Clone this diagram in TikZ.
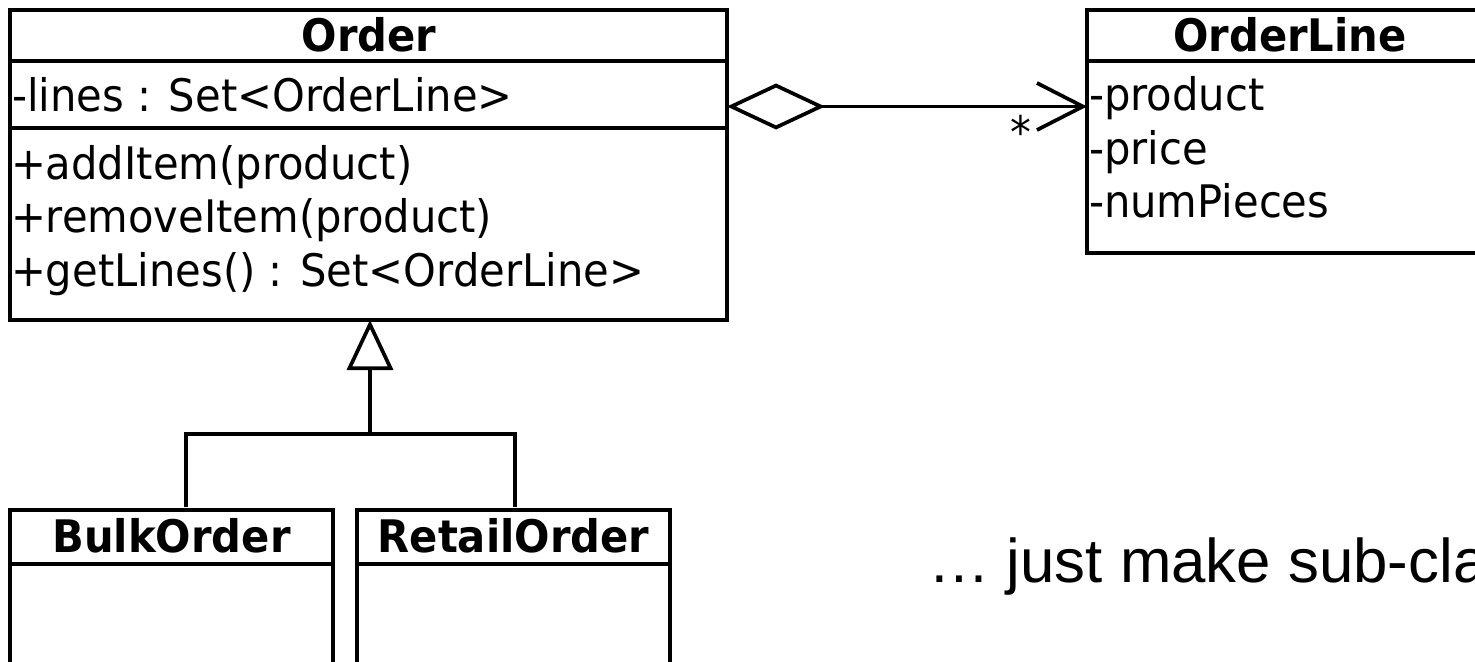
\documentclass[tikz,border=0pt]{standalone}
\usepackage{fontspec}
\setmainfont{DejaVu Sans}[FakeStretch=0.93]
\newfontfamily\notefont{Liberation Sans}
\usetikzlibrary{arrows.meta}
\begin{document}
\begin{tikzpicture}[x=1bp,y=-1bp,line width=3.7bp,
  comp/.style={draw,line width=3.7bp,inner sep=0,outer sep=0,anchor=north west},
  txt/.style={inner sep=0,outer sep=0,anchor=base west,font=\fontsize{45}{50}\selectfont},
  ttl/.style={inner sep=0,outer sep=0,anchor=base,font=\fontsize{45}{50}\selectfont\bfseries},
  aggr/.style={{Diamond[open,length=98bp,width=46bp]}-{Straight Barb[length=46bp,width=47bp]}},
  gen/.style={-{Triangle[open,length=50bp,width=46bp]}}]
\useasboundingbox (0,0) rectangle (1475,662);
\fill[white] (0,0) rectangle (1475,662);
\clip (0,0) rectangle (1475,662);

% Order
\node[comp,minimum width=717bp,minimum height=51bp] (oname) at (10,10) {};
\node[comp,minimum width=717bp,minimum height=67bp] (oattr) at (10,61) {};
\node[comp,minimum width=717bp,minimum height=192bp] (oops) at (10,128) {};
\node[ttl] (onamet) at (369,51.5) {Order};
\node[txt] (oa1) at (12,112) {-lines : Set<OrderLine>};
\node[txt] (oo1) at (11,179) {+addItem(product)};
\node[txt] (oo2) at (11,232.5) {+removeItem(product)};
\node[txt] (oo3) at (11,286) {+getLines() : Set<OrderLine>};

% OrderLine
\node[comp,minimum width=406bp,minimum height=51bp] (lname) at (1087,10) {};
\node[comp,minimum width=406bp,minimum height=192bp] (lattr) at (1087,61) {};
\node[ttl] (lnamet) at (1290,51.5) {OrderLine};
\node[txt] (la1) at (1089,111) {-product};
\node[txt] (la2) at (1089,164) {-price};
\node[txt] (la3) at (1089,217) {-numPieces};

% BulkOrder
\node[comp,minimum width=323bp,minimum height=54bp] (bname) at (10,510) {};
\node[comp,minimum width=323bp,minimum height=120bp] (bops) at (10,564) {};
\node[ttl] (bnamet) at (171.5,552.5) {BulkOrder};

% RetailOrder
\node[comp,minimum width=313bp,minimum height=54bp] (rname) at (357,510) {};
\node[comp,minimum width=313bp,minimum height=120bp] (rops) at (357,564) {};
\node[ttl] (rnamet) at (513.5,552.5) {RetailOrder};

% aggregation
\coordinate (cy) at (0,106.5);
\draw[aggr] (oattr.east |- cy) -- (lattr.west |- cy);
\node[inner sep=0,font=\fontsize{45}{50}\selectfont] (mult) at (1020.5,132) {*};

% generalisation
\coordinate (j) at (370,434);
\draw[gen] (j) -- (oops.south -| j);
\draw ([shift={(14.5,-3)}]bname.north) |- (j) -| ([shift={(1.5,-3)}]rname.north);

% note
\node[inner sep=0,outer sep=0,anchor=base west,font=\notefont\fontsize{62}{70}\selectfont] (note) at (928,582) {… just make sub-cla};
\end{tikzpicture}
\end{document}
